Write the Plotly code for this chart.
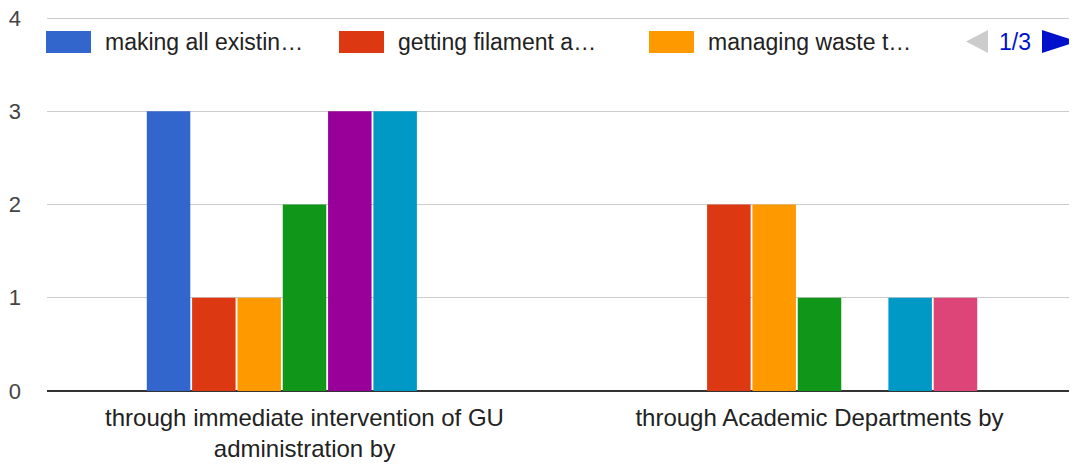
import plotly.graph_objects as go

categories = ["through immediate intervention of GU<br>administration by",
              "through Academic Departments by"]
series_names = ["making all existin…", "getting filament a…", "managing waste t…",
                "series 4", "series 5", "series 6", "series 7"]
series_values = [
    [3, 0],
    [1, 2],
    [1, 2],
    [2, 1],
    [3, 0],
    [3, 1],
    [0, 1],
]
colors = ["#3366cc", "#dc3912", "#ff9900", "#109618", "#990099", "#0099c6", "#dd4477"]
legend_shown = 3
page_label = "1/3"

# the page body has an 8px margin; compensate so the figure lands where intended
OFF = 8
W, H = 1077 - OFF, 465 - OFF
L, R, T, B = 47 - OFF, 0, 16 - OFF, 74
pw, ph = W - L - R, H - T - B
YMAX = 4
YTOP = YMAX * (391 - 16) / (391 - 18)   # a touch above 4 so the top gridline is drawn


def px_x(x):
    return (x - OFF - L) / pw


def px_y(y):
    return (H - B - (y - OFF)) / ph


fig = go.Figure()
for name, vals, c in zip(series_names, series_values, colors):
    fig.add_trace(go.Bar(x=categories, y=vals, name=name, marker=dict(color=c, line=dict(width=0)),
                         showlegend=False))

shapes = []
annotations = []
# custom paged legend
legend_x = [46, 339, 649]
for i in range(legend_shown):
    x0 = legend_x[i]
    shapes.append(dict(type="rect", xref="paper", yref="paper",
                       x0=px_x(x0), x1=px_x(x0 + 45), y0=px_y(53), y1=px_y(31),
                       fillcolor=colors[i], line=dict(width=0)))
    annotations.append(dict(xref="paper", yref="paper", x=px_x(x0 + 57), y=px_y(42),
                            xanchor="left", yanchor="middle", showarrow=False,
                            text=series_names[i], font=dict(size=23, color="#222222")))
# page arrows
shapes.append(dict(type="path", xref="paper", yref="paper",
                   path=f"M {px_x(988)} {px_y(30)} L {px_x(966)} {px_y(41.5)} L {px_x(988)} {px_y(53)} Z",
                   fillcolor="#cccccc", line=dict(width=0)))
shapes.append(dict(type="path", xref="paper", yref="paper",
                   path=f"M {px_x(1042)} {px_y(30)} L {px_x(1077)} {px_y(41.5)} L {px_x(1042)} {px_y(53)} Z",
                   fillcolor="#0011cc", line=dict(width=0)))
annotations.append(dict(xref="paper", yref="paper", x=px_x(1015), y=px_y(42),
                        xanchor="center", yanchor="middle", showarrow=False,
                        text=page_label, font=dict(size=23, color="#0011cc")))

fig.update_layout(
    width=W, height=H,
    margin=dict(l=L, r=R, t=T, b=B, pad=0, autoexpand=False),
    paper_bgcolor="white", plot_bgcolor="white",
    font=dict(family="Liberation Sans, Arial, sans-serif", size=22, color="#222222"),
    barmode="group", bargap=0.384, bargroupgap=0.04,
    shapes=shapes, annotations=annotations,
    showlegend=False,
    xaxis=dict(showgrid=False, showline=False, ticks="", tickfont=dict(size=24, color="#222222"),
               ticklabelstandoff=10, automargin=False, fixedrange=True),
    yaxis=dict(range=[0, YTOP], tickmode="array", tickvals=[0, 1, 2, 3, 4],
               showgrid=True, gridcolor="#cccccc", gridwidth=1,
               zeroline=True, zerolinecolor="#333333", zerolinewidth=2,
               tickfont=dict(size=22, color="#444444"), ticklabelstandoff=25,
               ticklabeloverflow="allow", automargin=False, fixedrange=True),
)

fig.write_html("out.html")
